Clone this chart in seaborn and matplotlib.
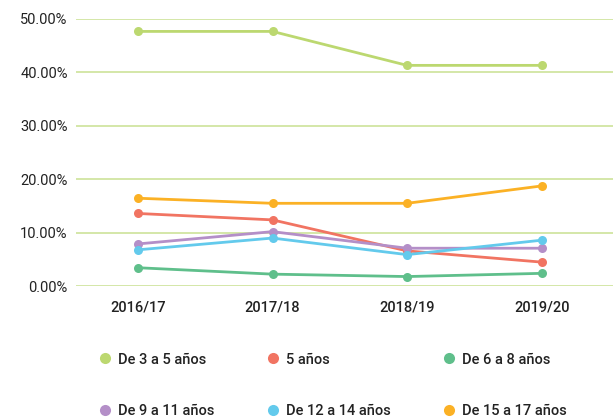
import pandas as pd
import matplotlib.pyplot as plt
import seaborn as sns
from matplotlib.ticker import FuncFormatter
from matplotlib.lines import Line2D

# data (shares, 0-1)
cursos = ['2016/17', '2017/18', '2018/19', '2019/20']
series = ['De 3 a 5 años', '5 años', 'De 6 a 8 años',
          'De 9 a 11 años', 'De 12 a 14 años', 'De 15 a 17 años']
de_3_a_5 = [0.4765, 0.4765, 0.413, 0.413]
cinco = [0.136, 0.124, 0.066, 0.045]
de_6_a_8 = [0.0345, 0.0225, 0.018, 0.024]
de_9_a_11 = [0.079, 0.102, 0.071, 0.071]
de_12_a_14 = [0.068, 0.090, 0.059, 0.086]
de_15_a_17 = [0.1645, 0.155, 0.155, 0.1875]
colores = ['#bcd870', '#f17462', '#5fbf8b', '#b48fc8', '#63caec', '#fbb125']

valores = [de_3_a_5, cinco, de_6_a_8, de_9_a_11, de_12_a_14, de_15_a_17]
rows = []
for name, vals in zip(series, valores):
    for i, v in enumerate(vals):
        rows.append({'curso': i, 'grupo': name, 'valor': v})
df = pd.DataFrame(rows)

sns.set_style('white')
plt.rcParams['font.family'] = ['Roboto', 'DejaVu Sans']

fig = plt.figure(figsize=(6.13, 4.19), dpi=100)
ax = fig.add_axes([0.124, 0.317, 0.876, 0.638])

sns.lineplot(data=df, x='curso', y='valor', hue='grupo', hue_order=series,
             palette=colores, marker='o', markersize=6.5, markeredgewidth=0,
             linewidth=2, legend=False, ax=ax, zorder=3)

ax.set_xlim(-0.46, 3.53)
ax.set_ylim(0, 0.5)
ax.set_yticks([0, 0.1, 0.2, 0.3, 0.4, 0.5])
ax.yaxis.set_major_formatter(FuncFormatter(lambda v, p: f'{v*100:.2f}%'))
ax.set_xticks(range(len(cursos)))
ax.set_xticklabels(cursos, fontweight='medium')
ax.tick_params(axis='both', length=0, labelsize=10.5, colors='#222222')
ax.tick_params(axis='x', pad=10)
ax.tick_params(axis='y', pad=6)
ax.grid(axis='y', color='#cde39a', linewidth=1.2)
ax.set_axisbelow(True)
for s in ax.spines.values():
    s.set_visible(False)
ax.set_xlabel('')
ax.set_ylabel('')
for line in ax.lines:
    line.set_clip_on(False)

# legend, row-major order in the reference
handles = [Line2D([], [], linestyle='', marker='o', markersize=8,
                  markeredgewidth=0, color=c) for c in colores]
order = [0, 3, 1, 4, 2, 5]
fig.legend([handles[i] for i in order], [series[i] for i in order],
           ncol=3, loc='upper left', bbox_to_anchor=(0.14, 0.19),
           frameon=False, handlelength=0.8, handletextpad=0.5,
           columnspacing=3.6, labelspacing=2.6,
           prop={'size': 10.5, 'weight': 'medium'}, labelcolor='#222222')

plt.savefig('out.png', dpi=100)
